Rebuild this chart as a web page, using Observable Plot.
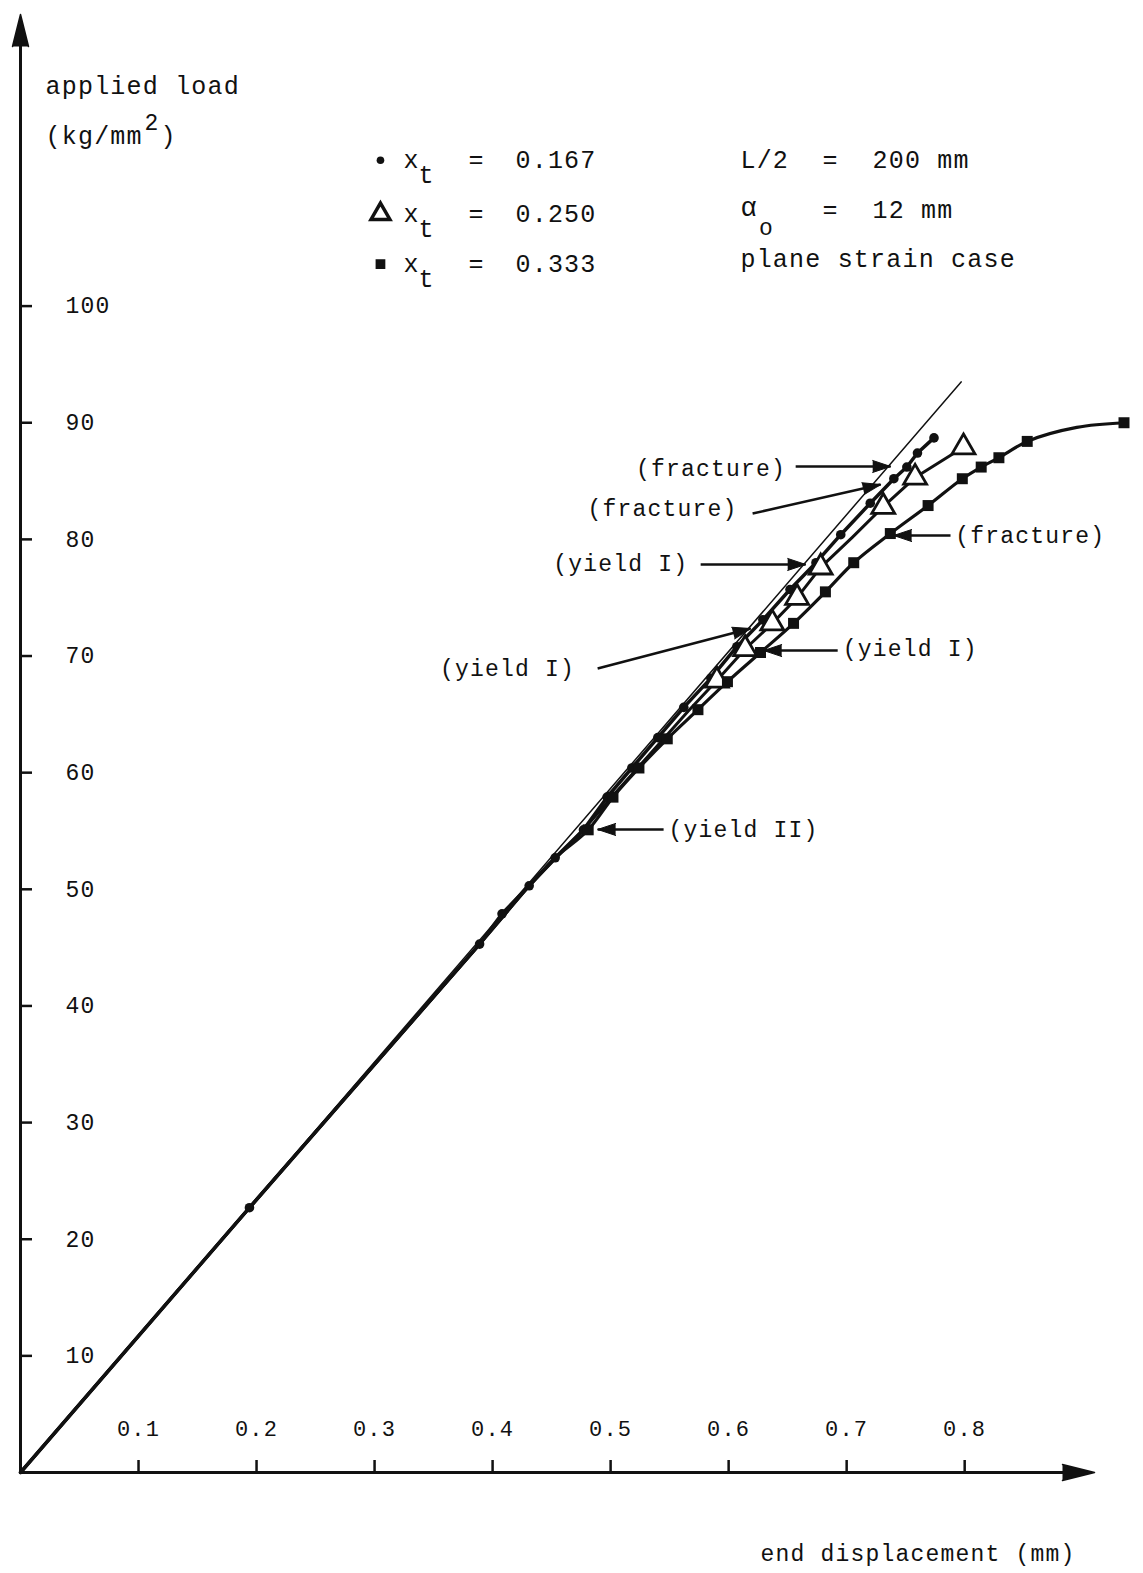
<!DOCTYPE html>
<html><head><meta charset="utf-8">
<script src="https://cdn.jsdelivr.net/npm/d3@7"></script>
<script src="https://cdn.jsdelivr.net/npm/@observablehq/plot@0.6"></script>
<style>
html,body{margin:0;padding:0;background:#fff;overflow:hidden}
#chart svg{display:block}
</style></head><body><div id="chart"></div>
<script>
// ---------- data ----------
const xTicks = [0.1, 0.2, 0.3, 0.4, 0.5, 0.6, 0.7, 0.8];
const yTicks = [10, 20, 30, 40, 50, 60, 70, 80, 90, 100];

// thin elastic reference line
const elasticX = [0, 0.797];
const elasticY = [0, 93.5];

// x_t = 0.167 (dots)
const s167X = [0, 0.194, 0.389, 0.408, 0.431, 0.453, 0.477, 0.497, 0.518, 0.540, 0.562, 0.585, 0.607, 0.629, 0.652, 0.674, 0.695, 0.720, 0.740, 0.751, 0.760, 0.774];
const s167Y = [0, 22.7, 45.3, 47.9, 50.3, 52.7, 55.1, 57.9, 60.4, 63.0, 65.6, 68.1, 70.8, 73.1, 75.7, 78.0, 80.4, 83.1, 85.2, 86.2, 87.4, 88.7];
const s167M = [0, 1, 1, 1, 1, 1, 1, 1, 1, 1, 1, 1, 1, 1, 1, 1, 1, 1, 1, 1, 1, 1];

// x_t = 0.250 (triangles)
const s250X = [0, 0.194, 0.389, 0.431, 0.477, 0.500, 0.522, 0.544, 0.566, 0.590, 0.614, 0.637, 0.658, 0.678, 0.705, 0.731, 0.758, 0.799];
const s250Y = [0, 22.7, 45.3, 50.3, 55.1, 57.8, 60.3, 62.8, 65.3, 67.9, 70.6, 72.8, 75.0, 77.6, 80.2, 82.8, 85.3, 87.9];
const s250M = [0, 0, 0, 0, 0, 0, 0, 0, 0, 1, 1, 1, 1, 1, 0, 1, 1, 1];

// x_t = 0.333 (squares)
const s333X = [0, 0.194, 0.389, 0.431, 0.453, 0.481, 0.502, 0.524, 0.548, 0.574, 0.599, 0.627, 0.655, 0.682, 0.706, 0.737, 0.769, 0.798, 0.814, 0.829, 0.853, 0.895, 0.935];
const s333Y = [0, 22.7, 45.3, 50.3, 52.7, 55.1, 57.9, 60.4, 62.9, 65.4, 67.8, 70.3, 72.8, 75.5, 78.0, 80.5, 82.9, 85.2, 86.2, 87.0, 88.4, 89.6, 90.0];
const s333M = [0, 0, 0, 0, 0, 1, 1, 1, 1, 1, 1, 1, 1, 1, 1, 1, 1, 1, 1, 1, 1, 0, 1];

// legend
const legendValues = ["0.167", "0.250", "0.333"];
const legendRowY = [112.5, 107.9, 103.6];

// annotations (text + arrow, in data units)
const noteText   = ["(fracture)", "(fracture)", "(fracture)", "(yield I)", "(yield I)", "(yield I)", "(yield II)"];
const noteX      = [0.585, 0.544, 0.792, 0.5085, 0.4127, 0.6966, 0.549];
const noteY      = [86.07, 82.65, 80.33, 77.93, 68.93, 70.64, 55.13];
const noteAnchor = ["middle", "middle", "start", "middle", "middle", "start", "start"];
const arrowX1 = [0.6568, 0.6203, 0.788, 0.5763, 0.489, 0.6924, 0.5449];
const arrowY1 = [86.25, 82.22, 80.33, 77.85, 68.93, 70.47, 55.13];
const arrowX2 = [0.7373, 0.7288, 0.7398, 0.6653, 0.6186, 0.6297, 0.489];
const arrowY2 = [86.25, 84.70, 80.33, 77.85, 72.36, 70.47, 55.13];

// ---------- layout ----------
const W = 1143, H = 1573;
const mL = 20, mR = 49, mT = 14, mB = 101;
const xMax = 0.91, yMax = 125;
const kx = (W - mL - mR) / xMax, ky = (H - mT - mB) / yMax;
const INK = "#111";

const rows = (xs, ys, ms) => xs.map((x, i) => ({x, y: ys[i], m: ms[i]}));
const A = rows(s167X, s167Y, s167M);
const B = rows(s250X, s250Y, s250M);
const C = rows(s333X, s333Y, s333M);
const elastic = elasticX.map((x, i) => ({x, y: elasticY[i]}));

const arrows = arrowX1.map((x1, i) => {
  const a = {x1, y1: arrowY1[i], x2: arrowX2[i], y2: arrowY2[i]};
  a.rot = Math.atan2((a.x2 - a.x1) * kx, (a.y2 - a.y1) * ky) * 180 / Math.PI;
  return a;
});
const notes = noteText.map((t, i) => ({t, x: noteX[i], y: noteY[i], a: noteAnchor[i]}));

// legend / header texts
const BIG = 25, MID = 23;
const sub = 15 / ky, sup = 13 / ky;
const legendItems = [];
legendRowY.forEach((y, i) => {
  legendItems.push({t: "x", x: 0.3313, y, a: "middle", s: BIG});
  legendItems.push({t: "t", x: 0.3440, y: y - sub, a: "middle", s: BIG});
  legendItems.push({t: "=", x: 0.3864, y, a: "middle", s: BIG});
  legendItems.push({t: legendValues[i], x: 0.4194, y, a: "start", s: BIG});
});
const headerItems = [
  {t: "applied load", x: 0.0212, y: 118.9, a: "start", s: BIG},
  {t: "(kg/mm", x: 0.0212, y: 114.6, a: "start", s: BIG},
  {t: "2", x: 0.1050, y: 114.6 + sup, a: "start", s: MID},
  {t: ")", x: 0.1186, y: 114.6, a: "start", s: BIG},
  {t: "L/2", x: 0.610, y: 112.5, a: "start", s: BIG},
  {t: "=", x: 0.6863, y: 112.5, a: "middle", s: BIG},
  {t: "200 mm", x: 0.7219, y: 112.5, a: "start", s: BIG},
  {t: "α", x: 0.610, y: 108.45, a: "start", s: 27},
  {t: "o", x: 0.6321, y: 108.45 - 1.75, a: "middle", s: MID},
  {t: "=", x: 0.6863, y: 108.2, a: "middle", s: BIG},
  {t: "12 mm", x: 0.7219, y: 108.2, a: "start", s: BIG},
  {t: "plane strain case", x: 0.610, y: 104.08, a: "start", s: BIG},
  {t: "end displacement (mm)", x: 0.627, y: -6.94, a: "start", s: MID}
];
const allText = [...legendItems, ...headerItems, ...notes.map(n => ({...n, s: MID}))];
const textMark = anchor => Plot.text(allText.filter(d => d.a === anchor), {
  x: "x", y: "y", text: "t", textAnchor: anchor, lineAnchor: "middle",
  fontSize: d => d.s, fill: INK
});

const plot = Plot.plot({
  width: W, height: H,
  marginLeft: mL, marginRight: mR, marginTop: mT, marginBottom: mB,
  x: {domain: [0, xMax], axis: null},
  y: {domain: [0, yMax], axis: null},
  style: "font-family: 'Liberation Mono', 'DejaVu Sans Mono', monospace; font-size: 22px; letter-spacing: 1.2px; background: #fff; color: #111; overflow: visible;",
  marks: [
    // axes lines with arrowheads
    Plot.ruleY([0], {x1: 0, x2: xMax - 0.01, strokeWidth: 3, stroke: INK}),
    Plot.ruleX([0], {y1: 0, y2: yMax - 1, strokeWidth: 3, stroke: INK}),
    Plot.vector([{x: xMax, y: 0, rot: 90}, {x: 0, y: yMax, rot: 0}], {
      x: "x", y: "y", rotate: d => d.rot, anchor: "end", shape: "spike", length: 32, r: 8, fill: INK, stroke: INK
    }),
    // ticks (inward) and labels
    Plot.axisX(xTicks, {anchor: "bottom", tickSize: -12, fill: "none", stroke: INK, strokeWidth: 2.5, label: null}),
    Plot.axisX(xTicks, {anchor: "bottom", tickSize: 0, tickPadding: 0, dy: -44, lineAnchor: "middle", label: null, tickFormat: d => d.toFixed(1), fontSize: 22, fill: INK}),
    Plot.axisY(yTicks, {anchor: "left", tickSize: -12, fill: "none", stroke: INK, strokeWidth: 2.5, label: null}),
    Plot.axisY(yTicks, {anchor: "left", tickSize: 0, tickPadding: 0, dx: 45, textAnchor: "start", label: null, fontSize: 23, fill: INK}),

    // data lines
    Plot.line(elastic, {x: "x", y: "y", stroke: INK, strokeWidth: 1.5}),
    Plot.line(A, {x: "x", y: "y", stroke: INK, strokeWidth: 3.5}),
    Plot.line(B, {x: "x", y: "y", stroke: INK, strokeWidth: 3}),
    Plot.line(C, {x: "x", y: "y", stroke: INK, strokeWidth: 3.2, curve: "catmull-rom"}),

    // markers
    Plot.dot(A.filter(d => d.m), {x: "x", y: "y", r: 4.8, fill: INK, stroke: "none"}),
    Plot.dot(B.filter(d => d.m), {x: "x", y: "y", symbol: "triangle", r: 8.5, fill: "#fff", stroke: INK, strokeWidth: 2.8}),
    Plot.dot(C.filter(d => d.m), {x: "x", y: "y", symbol: "square", r: 6.2, fill: INK, stroke: "none"}),

    // annotation arrows
    Plot.link(arrows, {x1: "x1", y1: "y1", x2: "x2", y2: "y2", stroke: INK, strokeWidth: 2.5}),
    Plot.vector(arrows, {x: "x2", y: "y2", rotate: d => d.rot, anchor: "end", shape: "spike", length: 18, r: 6, fill: INK, stroke: INK, strokeWidth: 1}),

    // legend symbols
    Plot.dot([{x: 0.305, y: legendRowY[0]}], {x: "x", y: "y", r: 3.8, fill: INK, stroke: "none"}),
    Plot.dot([{x: 0.305, y: legendRowY[1]}], {x: "x", y: "y", symbol: "triangle", r: 7, fill: "#fff", stroke: INK, strokeWidth: 3.5}),
    Plot.dot([{x: 0.305, y: legendRowY[2]}], {x: "x", y: "y", symbol: "square", r: 5.5, fill: INK, stroke: "none"}),

    // texts
    textMark("start"),
    textMark("middle")
  ]
});
document.getElementById("chart").append(plot);
</script>
</body></html>
